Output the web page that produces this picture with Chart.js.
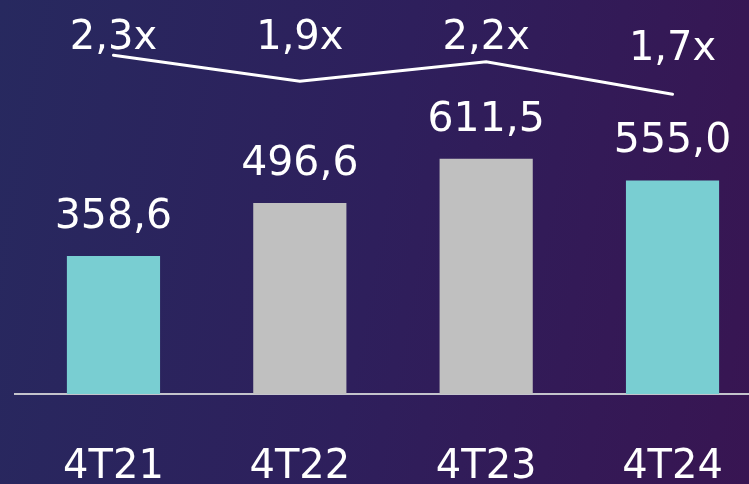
<!DOCTYPE html>
<html>
<head>
<meta charset="utf-8">
<script src="https://cdn.jsdelivr.net/npm/chart.js@4.4.1/dist/chart.umd.min.js"></script>
<style>
  html, body { margin: 0; padding: 0; }
  body {
    width: 749px; height: 484px; overflow: hidden;
    background: linear-gradient(100deg, #27295f 0%, #2e1f5c 50%, #381552 100%);
  }
  #chart { display: block; }
</style>
</head>
<body>
<canvas id="chart" width="790" height="484" style="width:790px;height:484px"></canvas>
<script>
const quarters = ['4T21', '4T22', '4T23', '4T24'];
const revenue  = [358.6, 496.6, 611.5, 555.0];
const multiple = [2.3, 1.9, 2.2, 1.7];

const comma = v => v.toFixed(1).replace('.', ',');
const FONT  = '"DejaVu Sans", sans-serif';

// labels over bars, and the multiples kept in a row unless the line dips low
const labelPlugin = {
    id: 'labels',
    afterDatasetsDraw(chart) {
        const ctx  = chart.ctx;
        const bars = chart.getDatasetMeta(1).data;
        const pts  = chart.getDatasetMeta(0).data;
        const area = chart.chartArea;
        ctx.save();
        ctx.fillStyle = '#ffffff';
        ctx.textAlign = 'center';
        ctx.textBaseline = 'alphabetic';
        ctx.font = '41px ' + FONT;
        bars.forEach((b, i) => ctx.fillText(comma(revenue[i]), b.x, b.y - 28));
        ctx.font = '40px ' + FONT;
        pts.forEach((p, i) =>
            ctx.fillText(comma(multiple[i]) + 'x', p.x, Math.max(area.top + 49, p.y - 34)));
        // axis line reaches a bit further left than the plot
        ctx.strokeStyle = '#c4c4cc';
        ctx.lineWidth = 2;
        ctx.beginPath();
        ctx.moveTo(14, area.bottom);
        ctx.lineTo(area.left + 1, area.bottom);
        ctx.stroke();
        ctx.restore();
    }
};

new Chart(document.getElementById('chart'), {
    data: {
        labels: quarters,
        datasets: [
            {
                type: 'line',
                data: multiple,
                yAxisID: 'y1',
                borderColor: '#ffffff',
                borderWidth: 3,
                pointRadius: 0,
                tension: 0,
                borderCapStyle: 'round',
                order: 0,
            },
            {
                type: 'bar',
                data: revenue,
                yAxisID: 'y',
                backgroundColor: ['#79ced2', '#c0c0c0', '#c0c0c0', '#79ced2'],
                barPercentage: 0.5,
                categoryPercentage: 1,
                order: 1,
            }
        ]
    },
    options: {
        responsive: false,
        animation: false,
        devicePixelRatio: 1,
        layout: { padding: { left: 20.3, right: 24.3, top: 0, bottom: 0 } },
        plugins: { legend: { display: false }, tooltip: { enabled: false } },
        scales: {
            x: {
                offset: true,
                grid: { display: false, drawTicks: false },
                border: { display: true, color: '#c4c4cc', width: 2 },
                ticks: { color: '#ffffff', padding: 50, font: { family: FONT, size: 40 } },
                afterFit: s => { s.height = 90; }
            },
            y:  { display: false, min: 0, max: 1024 },
            y1: { display: false, min: -2.91, max: 3.15 }
        }
    },
    plugins: [labelPlugin]
});
</script>
</body>
</html>
